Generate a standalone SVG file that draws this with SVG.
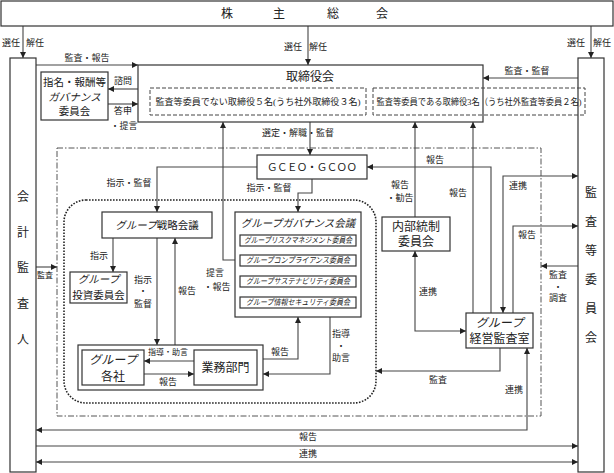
<svg xmlns="http://www.w3.org/2000/svg" width="614" height="473" viewBox="0 0 614 473">
<style>
.b{fill:#fff;stroke:#333;stroke-width:1.2}
.n{fill:none;stroke:#333;stroke-width:1.2}
.d{fill:none;stroke:#444;stroke-width:1;stroke-dasharray:4 2}
.dd{fill:none;stroke:#555;stroke-width:1;stroke-dasharray:6 2 1.5 2}
.dt{fill:none;stroke:#222;stroke-width:1.6;stroke-dasharray:1.6 1.4}
.c{fill:none;stroke:#444;stroke-width:1.1}
.ce{marker-end:url(#ah)}
.cb{marker-end:url(#ah);marker-start:url(#ah)}
text{font-family:"Liberation Serif","Noto Sans CJK JP",serif;fill:#222;text-anchor:middle;dominant-baseline:central}
.l{font-size:9px}
.s{font-size:8px}
.m{font-size:10.5px}
.k{font-size:12px}
.i{font-style:italic}
</style>
<defs>
<marker id="ah" viewBox="0 0 6 6" refX="6" refY="3" markerWidth="6" markerHeight="6" markerUnits="userSpaceOnUse" orient="auto-start-reverse"><path d="M0,0 L6,3 L0,6 z" fill="#222"/></marker>
</defs>

<g id="boundary">
<rect class="dd" x="57" y="148" width="484" height="268"/>
<rect class="dt" x="64" y="200" width="312" height="203" rx="22"/>
</g>

<g id="connectors">
<path class="c ce" d="M23,26 V58"/>
<path class="c ce" d="M308,26 V65"/>
<path class="c ce" d="M591,26 V58"/>
<path class="c ce" d="M36,65 H138"/>
<path class="c ce" d="M578,78 H483"/>
<path class="c ce" d="M138,89 H108"/>
<path class="c ce" d="M108,104 H138"/>
<path class="c ce" d="M310,122 V155"/>
<path class="c ce" d="M257,167 H157 V212"/>
<path class="c ce" d="M312,179 V193 H298 V212"/>
<path class="c ce" d="M235,260 H223 V122"/>
<path class="c ce" d="M113,238 V272"/>
<path class="c ce" d="M157,238 V345"/>
<path class="c ce" d="M175,345 V238"/>
<path class="c ce" d="M194,361 H144"/>
<path class="c ce" d="M144,374 H194"/>
<path class="c ce" d="M263,359 H298 V317"/>
<path class="c ce" d="M330,317 V374 H263"/>
<path class="c ce" d="M415,217 V122"/>
<path class="c ce" d="M473,313 V122"/>
<path class="c ce" d="M491,313 V167 H367"/>
<path class="c cb" d="M503,313 V176 H578"/>
<path class="c ce" d="M513,313 V226 H578"/>
<path class="c ce" d="M578,266 H541"/>
<path class="c cb" d="M415,251 V331 H466"/>
<path class="c ce" d="M500,348 V371 H376"/>
<path class="c cb" d="M527,348 V430 H36"/>
<path class="c ce" d="M36,446 H578"/>
<path class="c cb" d="M36,462 H578"/>
<path class="c ce" d="M36,267 H57"/>
</g>

<g id="labels">
<text class="l" x="11" y="43">選任</text>
<text class="l" x="35" y="43">解任</text>
<text class="l" x="293" y="47">選任</text>
<text class="l" x="318" y="47">解任</text>
<text class="l" x="576" y="43">選任</text>
<text class="l" x="602" y="43">解任</text>
<text class="l" x="87" y="58">監査・報告</text>
<text class="l" x="527" y="71">監査・監督</text>
<text class="l" x="123" y="81">諮問</text>
<text class="l" x="123" y="111">答申</text>
<text class="l" x="124" y="126">・提言</text>
<text class="l" x="298" y="133">選定・解職・監督</text>
<text class="l" x="129" y="183">指示・監督</text>
<text class="l" x="269" y="188">指示・監督</text>
<text class="l" x="215" y="273">提言</text>
<text class="l" x="217" y="287">・報告</text>
<text class="l" x="99" y="256">指示</text>
<text class="l" x="143" y="280">指示</text>
<text class="l" x="143" y="291">・</text>
<text class="l" x="143" y="304">監督</text>
<text class="l" x="187" y="291">報告</text>
<text class="l" x="280" y="352">報告</text>
<text class="l" x="341" y="334">指導</text>
<text class="l" x="341" y="346">・</text>
<text class="l" x="341" y="358">助言</text>
<text class="l" x="435" y="160">報告</text>
<text class="l" x="400" y="185">報告</text>
<text class="l" x="400" y="198">・勧告</text>
<text class="l" x="458" y="193">報告</text>
<text class="l" x="518" y="186">連携</text>
<text class="l" x="527" y="235">報告</text>
<text class="l" x="558" y="275">監査</text>
<text class="l" x="558" y="287">・</text>
<text class="l" x="558" y="298">調査</text>
<text class="l" x="428" y="292">連携</text>
<text class="l" x="438" y="380">監査</text>
<text class="l" x="514" y="390">連携</text>
<text class="s" x="45" y="275">監査</text>
<text class="l" x="308" y="437">報告</text>
<text class="l" x="308" y="454">連携</text>
</g>

<g id="shareholders">
<rect class="b" x="1" y="1" width="612" height="25"/>
<text class="k" x="227" y="14">株</text>
<text class="k" x="279" y="14">主</text>
<text class="k" x="333" y="14">総</text>
<text class="k" x="382" y="14">会</text>
</g>

<g id="accounting-auditor">
<rect class="b" x="10" y="58" width="26" height="414"/>
<text class="k" x="23" y="197">会</text>
<text class="k" x="23" y="233">計</text>
<text class="k" x="23" y="268">監</text>
<text class="k" x="23" y="304">査</text>
<text class="k" x="23" y="340">人</text>
</g>

<g id="audit-committee">
<rect class="b" x="578" y="58" width="26" height="414"/>
<text class="k" x="591" y="193">監</text>
<text class="k" x="591" y="222">査</text>
<text class="k" x="591" y="251">等</text>
<text class="k" x="591" y="280">委</text>
<text class="k" x="591" y="309">員</text>
<text class="k" x="591" y="338">会</text>
</g>

<g id="board">
<rect class="b" x="138" y="65" width="345" height="57"/>
<text class="k" x="310" y="77">取締役会</text>
<rect class="d" x="150" y="88" width="216" height="27"/>
<text class="l" x="258" y="102" textLength="205" lengthAdjust="spacingAndGlyphs">監査等委員でない取締役５名(うち社外取締役３名)</text>
<rect class="d" x="373" y="88" width="212" height="27"/>
<text class="l" x="479" y="102" textLength="205" lengthAdjust="spacingAndGlyphs">監査等委員である取締役3名（うち社外監査等委員２名)</text>
</g>

<g id="nomination-committee">
<rect class="b" x="41" y="72" width="67" height="48"/>
<text class="m" x="74.5" y="82">指名・報酬等</text>
<text class="m" x="74.5" y="97"><tspan class="i">ガバナンス</tspan></text>
<text class="m" x="74.5" y="111">委員会</text>
</g>

<g id="gceo">
<rect class="b" x="257" y="155" width="110" height="24"/>
<text class="m" x="312" y="167" textLength="90" lengthAdjust="spacing">ＧＣＥＯ・ＧＣＯＯ</text>
</g>

<g id="strategy-meeting">
<rect class="b" x="102" y="212" width="110" height="26"/>
<text class="m" x="157" y="225"><tspan class="i">グループ</tspan>戦略会議</text>
</g>

<g id="investment-committee">
<rect class="b" x="70" y="272" width="57" height="31"/>
<text class="m" x="98.5" y="279"><tspan class="i">グループ</tspan></text>
<text class="m" x="98.5" y="295">投資委員会</text>
</g>

<g id="governance-meeting">
<rect class="b" x="235" y="212" width="126" height="105"/>
<text class="m i" x="298" y="223">グループガバナンス会議</text>
<rect class="n" x="240" y="235" width="116" height="11"/>
<text class="s i" x="298" y="240.5" textLength="108" lengthAdjust="spacingAndGlyphs">グループリスクマネジメント委員会</text>
<rect class="n" x="240" y="255" width="116" height="11"/>
<text class="s i" x="298" y="260.5" textLength="104" lengthAdjust="spacingAndGlyphs">グループコンプライアンス委員会</text>
<rect class="n" x="240" y="276" width="116" height="11"/>
<text class="s i" x="298" y="281.5" textLength="104" lengthAdjust="spacingAndGlyphs">グループサステナビリティ委員会</text>
<rect class="n" x="240" y="297" width="116" height="11"/>
<text class="s i" x="298" y="302.5" textLength="104" lengthAdjust="spacingAndGlyphs">グループ情報セキュリティ委員会</text>
</g>

<g id="group-companies">
<rect class="n" x="78" y="345" width="185" height="45"/>
<rect class="b" x="82" y="350" width="62" height="35"/>
<text class="k" x="113" y="360"><tspan class="i">グループ</tspan></text>
<text class="k" x="113" y="377">各社</text>
<text class="s" x="168" y="352">指導・助言</text>
<text class="l" x="168" y="382">報告</text>
</g>

<g id="business-division">
<rect class="b" x="194" y="350" width="63" height="35"/>
<text class="k" x="225.5" y="368">業務部門</text>
</g>

<g id="internal-control">
<rect class="b" x="382" y="217" width="68" height="34"/>
<text class="k" x="416" y="227">内部統制</text>
<text class="k" x="416" y="242">委員会</text>
</g>

<g id="group-audit">
<rect class="b" x="466" y="313" width="67" height="35"/>
<text class="k" x="499.5" y="323"><tspan class="i">グループ</tspan></text>
<text class="k" x="499.5" y="339">経営監査室</text>
</g>
</svg>
